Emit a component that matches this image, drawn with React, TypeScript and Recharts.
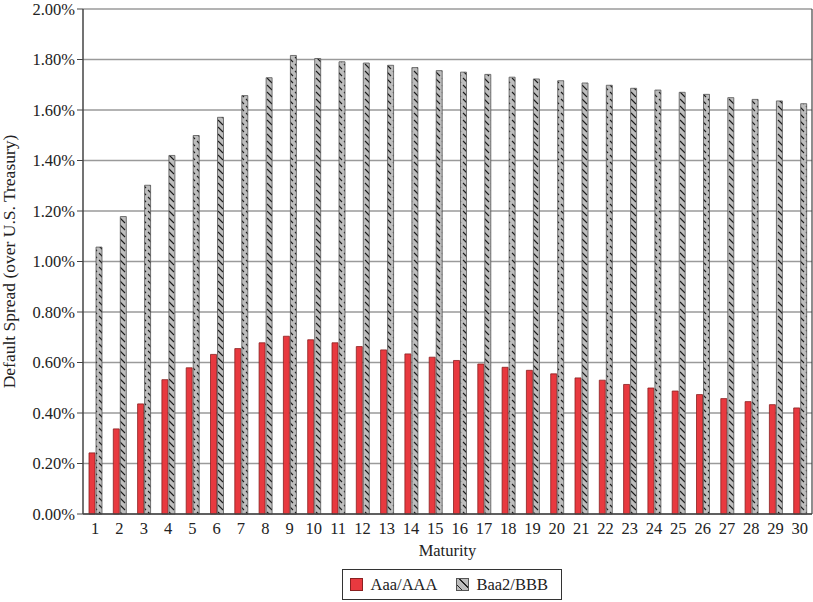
import { BarChart, Bar, XAxis, YAxis, CartesianGrid, Legend } from 'recharts';

const maturities = [
  '1', '2', '3', '4', '5', '6', '7', '8', '9', '10',
  '11', '12', '13', '14', '15', '16', '17', '18', '19', '20',
  '21', '22', '23', '24', '25', '26', '27', '28', '29', '30',
];

// default spreads in percent
const aaaSpread = [
  0.242, 0.337, 0.436, 0.532, 0.579, 0.632, 0.655, 0.678, 0.704, 0.69,
  0.678, 0.663, 0.65, 0.634, 0.621, 0.608, 0.594, 0.581, 0.569, 0.555,
  0.539, 0.53, 0.513, 0.499, 0.487, 0.473, 0.457, 0.445, 0.433, 0.42,
];

const baaSpread = [
  1.057, 1.178, 1.302, 1.42, 1.499, 1.571, 1.657, 1.728, 1.816, 1.804,
  1.791, 1.786, 1.777, 1.768, 1.756, 1.75, 1.741, 1.73, 1.723, 1.716,
  1.707, 1.698, 1.686, 1.679, 1.67, 1.662, 1.649, 1.642, 1.636, 1.625,
];

const yTicks = [0, 0.2, 0.4, 0.6, 0.8, 1.0, 1.2, 1.4, 1.6, 1.8, 2.0];

const seriesNames = { aaa: 'Aaa/AAA', baa: 'Baa2/BBB' };

const FONT = '"Liberation Serif", "DejaVu Serif", serif';
const TEXT = '#222';
const RED = '#e8393f';
const RED_EDGE = '#8a2020';
const GRAY = '#bdbdbd';
const GRAY_EDGE = '#555';
const FS = 16.5;

const data = maturities.map((m, i) => ({
  maturity: m,
  aaa: aaaSpread[i],
  baa: baaSpread[i],
}));

function LegendBox() {
  const swatch = { width: 13, height: 13, boxSizing: 'border-box' as const };
  return (
    <div style={{ display: 'flex', justifyContent: 'center', paddingTop: 9, paddingLeft: 8 }}>
      <div
        style={{
          border: '1px solid #333',
          height: 31,
          width: 220,
          display: 'flex',
          alignItems: 'center',
          fontFamily: FONT,
          fontSize: FS,
          color: TEXT,
          boxSizing: 'border-box',
          paddingLeft: 7,
        }}
      >
        <span style={{ ...swatch, background: RED, border: `1px solid ${RED_EDGE}` }} />
        <span style={{ marginLeft: 8 }}>{seriesNames.aaa}</span>
        <span
          style={{
            ...swatch,
            marginLeft: 19,
            border: `1px solid ${GRAY_EDGE}`,
            background: `repeating-linear-gradient(45deg, ${GRAY} 0 3px, #222 3px 4px, ${GRAY} 4px 6px)`,
          }}
        />
        <span style={{ marginLeft: 7 }}>{seriesNames.baa}</span>
      </div>
    </div>
  );
}

export default function App() {
  return (
    <div style={{ position: 'absolute', left: 0, top: 0, width: 813, height: 602, background: '#fff' }}>
      <BarChart
        width={813}
        height={602}
        data={data}
        margin={{ top: 9, right: 0, bottom: 0, left: 0 }}
        barSize={6}
        barGap={1}
      >
        <defs>
          <pattern id="hatch" patternUnits="userSpaceOnUse" width="7" height="7">
            <rect width="7" height="7" fill={GRAY} />
            <line x1="1" y1="1" x2="6" y2="6" stroke="#1a1a1a" strokeWidth="1.1" />
          </pattern>
        </defs>
        <CartesianGrid vertical={false} stroke="#9a9a9a" strokeWidth={1.3} />
        <XAxis
          dataKey="maturity"
          height={46}
          tickLine={false}
          axisLine={{ stroke: '#444', strokeWidth: 1.5 }}
          tick={{ fontSize: FS, fill: TEXT, fontFamily: FONT }}
          tickMargin={2}
          interval={0}
          label={{
            value: 'Maturity',
            position: 'insideBottom',
            offset: 4,
            style: { fontSize: FS, fill: TEXT, fontFamily: FONT },
          }}
        />
        <YAxis
          width={83}
          domain={[0, 2]}
          ticks={yTicks}
          interval={0}
          tickFormatter={(v: number) => `${v.toFixed(2)}%`}
          tickSize={6}
          tickLine={{ stroke: '#444' }}
          axisLine={{ stroke: '#444', strokeWidth: 1.5 }}
          tick={{ fontSize: FS, fill: TEXT, fontFamily: FONT }}
          label={{
            value: 'Default Spread (over U.S. Treasury)',
            content: ({ viewBox }: any) => (
              <text
                transform={`translate(${viewBox.x + 15}, ${viewBox.y + viewBox.height / 2}) rotate(-90)`}
                textAnchor="middle"
                style={{ fontSize: 17.5, fill: TEXT, fontFamily: FONT }}
              >
                Default Spread (over U.S. Treasury)
              </text>
            ),
          }}
        />
        <YAxis
          yAxisId="frame"
          orientation="right"
          width={1}
          domain={[0, 2]}
          tick={false}
          tickLine={false}
          axisLine={{ stroke: '#444', strokeWidth: 1.2 }}
        />
        <XAxis
          xAxisId="frame"
          orientation="top"
          height={0}
          tick={false}
          tickLine={false}
          axisLine={{ stroke: '#444', strokeWidth: 1.2 }}
        />
        <Legend
          verticalAlign="bottom"
          height={42}
          wrapperStyle={{ left: 83, width: 729 }}
          content={() => <LegendBox />}
        />
        <Bar
          dataKey="aaa"
          name={seriesNames.aaa}
          fill={RED}
          stroke={RED_EDGE}
          strokeWidth={0.8}
          isAnimationActive={false}
        />
        <Bar
          dataKey="baa"
          name={seriesNames.baa}
          fill="url(#hatch)"
          stroke={GRAY_EDGE}
          strokeWidth={0.8}
          isAnimationActive={false}
        />
      </BarChart>
    </div>
  );
}
